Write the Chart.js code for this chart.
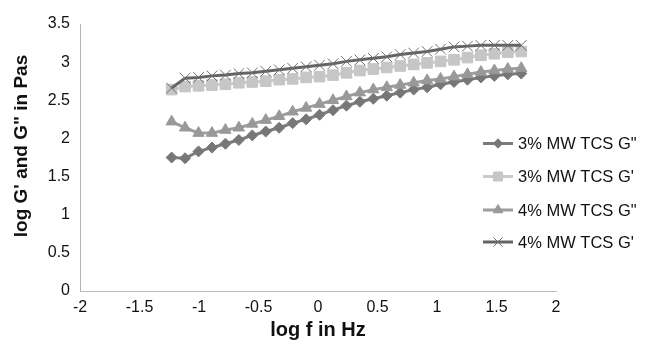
<!DOCTYPE html>
<html>
<head>
<meta charset="utf-8">
<script src="https://cdn.jsdelivr.net/npm/chart.js@4/dist/chart.umd.min.js"></script>
<style>
  body { margin: 0; background: #fff; }
  canvas { display: block; }
</style>
</head>
<body>
<canvas id="chart" width="645" height="347"></canvas>
<script>
/* --------------- Data ---------------------------------------------- */
const logF = [
  -1.23, -1.117, -1.004, -0.891, -0.778, -0.665, -0.552, -0.439, -0.326,
  -0.213, -0.100, 0.013, 0.126, 0.239, 0.352, 0.465, 0.578, 0.691,
  0.804, 0.917, 1.030, 1.143, 1.256, 1.369, 1.482, 1.595, 1.708
];
const g2_3 = [
  1.75, 1.74, 1.83, 1.88, 1.93, 1.98, 2.04, 2.09, 2.14, 2.20, 2.25, 2.31, 2.37, 2.43,
  2.48, 2.52, 2.56, 2.60, 2.64, 2.67, 2.71, 2.74, 2.77, 2.80, 2.82, 2.84, 2.85
];
const g1_3 = [
  2.64, 2.68, 2.69, 2.70, 2.71, 2.73, 2.74, 2.75, 2.77, 2.78, 2.80, 2.81, 2.83, 2.86,
  2.89, 2.91, 2.93, 2.95, 2.97, 2.99, 3.01, 3.03, 3.06, 3.09, 3.11, 3.13, 3.14
];
const g2_4 = [
  2.22, 2.14, 2.07, 2.07, 2.11, 2.14, 2.19, 2.24, 2.29, 2.35, 2.40, 2.45, 2.50, 2.55,
  2.60, 2.64, 2.67, 2.70, 2.73, 2.76, 2.78, 2.81, 2.84, 2.87, 2.89, 2.91, 2.92
];
const g1_4 = [
  2.66, 2.79, 2.80, 2.82, 2.83, 2.85, 2.86, 2.88, 2.90, 2.92, 2.94, 2.96, 2.98, 3.01,
  3.03, 3.05, 3.07, 3.10, 3.12, 3.14, 3.17, 3.20, 3.21, 3.22, 3.22, 3.22, 3.22
];
const seriesNames = ["3% MW TCS G\"", "3% MW TCS G'", "4% MW TCS G\"", "4% MW TCS G'"];
const xTicks = [-2, -1.5, -1, -0.5, 0, 0.5, 1, 1.5, 2];
const yTicks = [0, 0.5, 1, 1.5, 2, 2.5, 3, 3.5];
const yTitle = "log G' and G\" in Pas";

const toPoints = (ys) => ys.map((y, i) => ({ x: logF[i], y: y }));

/* --------------- Series styles --------------------- */
const styles = [
  { line: "#7b7b7b", fill: "#777777", pointStyle: "rectRot", radius: 5.5 },
  { line: "#cacaca", fill: "#c6c6c6", pointStyle: "rect", radius: 7.5 },
  { line: "#9d9d9d", fill: "#999999", pointStyle: "triangle", radius: 6.5 },
  { line: "#646464", fill: "#6e6e6e", pointStyle: "crossRot", radius: 7.5 },
];
const allY = [g2_3, g1_3, g2_4, g1_4];

const datasets = allY.map((ys, i) => ({
  label: seriesNames[i],
  data: toPoints(ys),
  showLine: true,
  borderColor: styles[i].line,
  borderWidth: 3,
  backgroundColor: styles[i].fill,
  pointStyle: styles[i].pointStyle,
  pointRadius: styles[i].radius,
  pointBackgroundColor: styles[i].fill,
  pointBorderColor: styles[i].fill,
  pointBorderWidth: 1,
  tension: 0,
  order: 4 - i,
}));

/* --------------- Legend + y title drawn like the Excel ones --------------------- */
const lineLegend = {
  id: "lineLegend",
  afterDraw(chart) {
    const ctx = chart.ctx;
    const rows = [143.5, 176.5, 210, 242];
    ctx.save();
    chart.data.datasets.forEach((ds, i) => {
      const y = rows[i];
      ctx.strokeStyle = ds.borderColor;
      ctx.lineWidth = 3;
      ctx.beginPath();
      ctx.moveTo(483, y);
      ctx.lineTo(513, y);
      ctx.stroke();
      ctx.fillStyle = ds.pointBackgroundColor;
      ctx.strokeStyle = ds.pointBorderColor;
      ctx.lineWidth = 1;
      Chart.helpers.drawPoint(ctx, {
        pointStyle: ds.pointStyle,
        radius: ds.pointRadius * 0.85,
        rotation: 0,
        borderWidth: 1,
      }, 498, y);
      ctx.fillStyle = "#111";
      ctx.font = '16.5px "Liberation Sans", Arial, sans-serif';
      ctx.textBaseline = "middle";
      ctx.textAlign = "left";
      ctx.fillText(ds.label, 518, y + 1);
    });
    // y title sits a bit above the plot centre in the original
    ctx.translate(22, 146);
    ctx.rotate(-Math.PI / 2);
    ctx.font = 'bold 19px "Liberation Sans", Arial, sans-serif';
    ctx.textAlign = "center";
    ctx.textBaseline = "middle";
    ctx.fillText(yTitle, 0, 0);
    ctx.restore();
  },
};

/* --------------- Chart --------------------- */
const tickFont = { family: '"Liberation Sans", Arial, sans-serif', size: 16 };

new Chart(document.getElementById("chart"), {
  type: "scatter",
  data: { datasets: datasets },
  plugins: [lineLegend],
  options: {
    responsive: false,
    animation: false,
    layout: { padding: { top: 24, right: 89, left: 0, bottom: 0 } },
    plugins: {
      legend: { display: false },
      tooltip: { enabled: false },
    },
    scales: {
      x: {
        type: "linear",
        min: -2,
        max: 2,
        afterBuildTicks: (s) => { s.ticks = xTicks.map((v) => ({ value: v })); },
        afterFit: (s) => { s.height = 56; },
        grid: { display: false, drawTicks: false },
        border: { display: true, color: "#bdbdbd", width: 1 },
        ticks: { color: "#111", font: tickFont, padding: 7, callback: (v) => String(v) },
        title: {
          display: true,
          text: "log f in Hz",
          color: "#111",
          font: { family: '"Liberation Sans", Arial, sans-serif', size: 20, weight: "bold" },
          padding: { top: 0, bottom: 5 },
        },
      },
      y: {
        type: "linear",
        min: 0,
        max: 3.5,
        afterBuildTicks: (s) => { s.ticks = yTicks.map((v) => ({ value: v })); },
        afterFit: (s) => { s.width = 80; },
        grid: { display: false, drawTicks: false },
        border: { display: true, color: "#b3b3b3", width: 1 },
        ticks: { color: "#111", font: tickFont, padding: 10, callback: (v) => String(v) },
        title: { display: false },
      },
    },
  },
});
</script>
</body>
</html>
